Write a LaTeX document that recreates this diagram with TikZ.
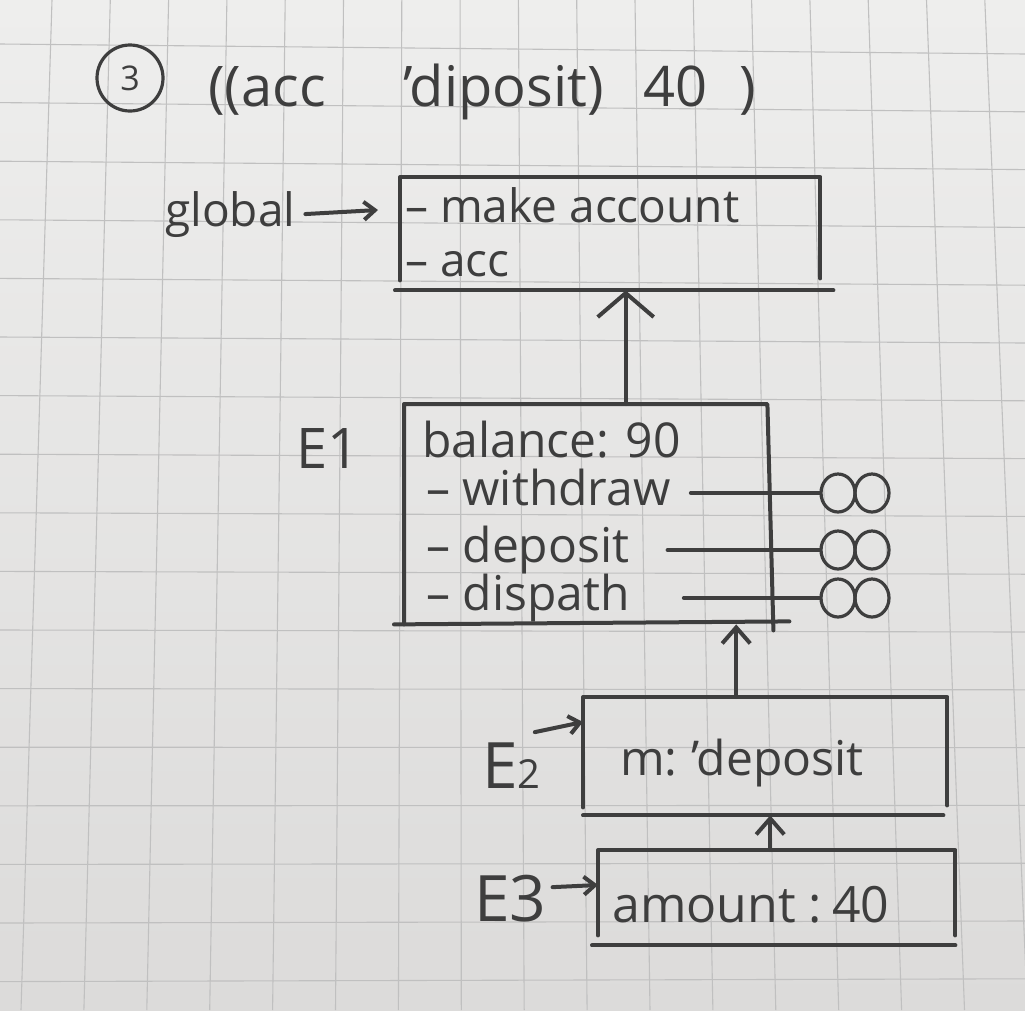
\documentclass[tikz,border=0pt]{standalone}
\usepackage{fontspec}
\setmainfont{Open Sans}
\usetikzlibrary{arrows.meta,shapes.geometric}
\definecolor{ink}{RGB}{62,62,62}
\definecolor{gridline}{RGB}{192,192,192}
\definecolor{papertop}{RGB}{238,238,237}
\definecolor{paperbot}{RGB}{220,219,218}

\begin{document}
\begin{tikzpicture}[x=1pt,y=-1pt,
  pen/.style={draw=ink,line width=4pt,line cap=round,line join=round},
  hand/.style={text=ink,inner sep=0pt,anchor=base west,font=\fontsize{46}{50}\selectfont},
  binding/.style={hand,font=\fontsize{48}{52}\selectfont,text height=34pt,text depth=10pt},
  envframe/.style={anchor=north west,inner sep=0pt},
  proc/.style={ellipse,draw=ink,line width=3.2pt,minimum width=34pt,minimum height=38pt,inner sep=0pt},
  ptr/.style={pen,-{Straight Barb[length=16pt,width=28pt]}},
  bigptr/.style={pen,-{Straight Barb[length=24pt,width=56pt]}},
  tagptr/.style={pen,-{Straight Barb[length=11pt,width=18pt]}}]
% graph paper
\begin{scope}
\clip (0,0) rectangle (1025,1010);
\shade[top color=papertop,bottom color=paperbot] (0,0) rectangle (1025,1010);
\foreach \k in {0,...,17}
  \draw[gridline,line width=1.1pt] ({52+58.3*\k},0) -- ({21+62.9*\k},1010);
\foreach \k in {0,...,16}
  \draw[gridline,line width=1.1pt] (0,{44+58.6*\k}) -- (1025,{54+57.8*\k});
\end{scope}
\useasboundingbox (0,0) rectangle (1025,1010);

% heading
\node[circle,draw=ink,line width=3.2pt,minimum size=66pt,inner sep=0pt,text=ink,font=\fontsize{34}{36}\selectfont] (num) at (130,78) {3};
\node[hand,font=\fontsize{56}{60}\selectfont] (title) at (208,106) {((acc\hspace{78pt}'diposit)\hspace{40pt}40\hspace{32pt})};

% global
\node[hand] (glob) at (165,226) {global};
\node[envframe,minimum width=420pt,minimum height=113pt] (G) at (400,177) {};
\draw[pen] ([yshift=10pt]G.south west) -- (G.north west) -- (G.north east) -- ([yshift=12pt]G.south east);
\draw[pen] ([xshift=-5pt]G.south west) -- ([xshift=13pt]G.south east);
\node[hand] (mk) at (405,222) {-- make account};
\node[hand] (acc) at (405,276) {-- acc};
\draw[tagptr] ([xshift=10pt]glob.east) -- ([xshift=-22pt,yshift=-33pt]G.north west);

% E1
\node[hand,font=\fontsize{56}{60}\selectfont] (E1lbl) at (296,468) {E1};
\node[envframe,minimum width=363pt,minimum height=220pt] (E1) at (404,404) {};
\draw[pen] (E1.south west) -- (E1.north west) -- (E1.north east) -- ([xshift=6pt,yshift=-6pt]E1.south east);
\draw[pen] ([xshift=-10pt]E1.south west) -- ([xshift=22pt,yshift=3pt]E1.south east);
\node[hand,font=\fontsize{48}{52}\selectfont] (bal) at (422,457) {balance: 90};
\node[binding] (wd) at (426,505) {-- withdraw};
\node[binding] (dp) at (426,562) {-- deposit};
\node[binding] (dsp) at (426,610) {-- dispath};
\node[proc] (wl) at (838,493) {};
\node[proc] (wr) at (872,493) {};
\node[proc] (dl) at (838,550) {};
\node[proc] (dr) at (872,550) {};
\node[proc] (sl) at (838,598) {};
\node[proc] (sr) at (872,598) {};
\draw[pen,shorten <=20pt] (wd.east) -- (wd.east -| wl.west);
\draw[pen,shorten <=38pt] (dp.east) -- (dp.east -| dl.west);
\draw[pen,shorten <=54pt] (dsp.east) -- (dsp.east -| sl.west);
\coordinate (up1) at ([xshift=40pt]E1.north);
\draw[bigptr] (up1) -- (up1 |- G.south);

% E2
\node[hand,font=\fontsize{64}{68}\selectfont] (E2lbl) at (482,788) {E{\fontsize{40}{44}\selectfont 2}};
\node[envframe,minimum width=364pt,minimum height=118pt] (E2) at (583,697) {};
\draw[pen] ([yshift=8pt]E2.south west) -- (E2.north west) -- (E2.north east) -- ([yshift=10pt]E2.south east);
\draw[pen] (E2.south west) -- ([xshift=-4pt]E2.south east);
\node[hand,font=\fontsize{48}{52}\selectfont] (m) at (620,775) {m:\hspace{14pt}'deposit};
\draw[tagptr] ([xshift=-6pt,yshift=10pt]E2lbl.north east) -- ([yshift=-25pt]E2.north west);
\coordinate (up2) at ([xshift=-29pt]E2.north);
\draw[ptr] (up2) -- (up2 |- E1.south);

% E3
\node[hand,font=\fontsize{64}{68}\selectfont] (E3lbl) at (474,921) {E3};
\node[envframe,minimum width=357pt,minimum height=95pt] (E3) at (598,850) {};
\draw[pen] ([yshift=10pt]E3.south west) -- (E3.north west) -- (E3.north east) -- ([yshift=10pt]E3.south east);
\draw[pen] ([xshift=-6pt]E3.south west) -- (E3.south east);
\node[hand,font=\fontsize{50}{54}\selectfont] (amt) at (612,922) {amount :\hspace{10pt}40};
\draw[tagptr] ([xshift=6pt,yshift=11pt]E3lbl.east) -- ([yshift=-35pt]E3.north west);
\coordinate (up3) at ([xshift=-6.5pt]E3.north);
\draw[ptr] (up3) -- (up3 |- E2.south);
\end{tikzpicture}
\end{document}
